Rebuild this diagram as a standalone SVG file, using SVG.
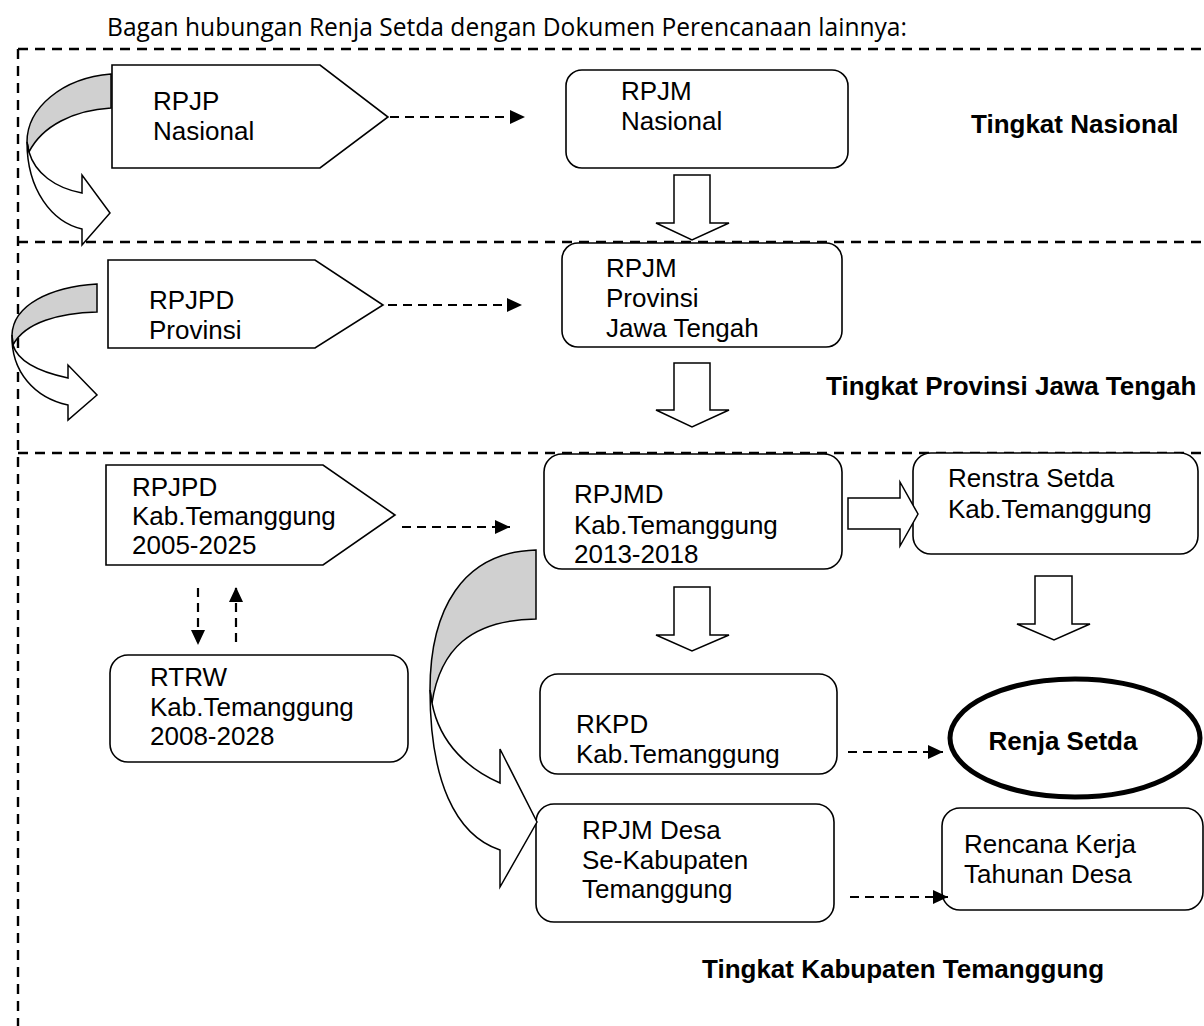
<svg xmlns="http://www.w3.org/2000/svg" width="1204" height="1026" viewBox="0 0 1204 1026">
<defs>
<style>
.t{font-family:"Liberation Sans",Arial,sans-serif;font-size:26px;fill:#000}
.b{font-weight:bold}
.title{font-family:"Open Sans","DejaVu Sans",sans-serif;font-size:26px;fill:#000}
.box{fill:#fff;stroke:#000;stroke-width:1.6}
.border{fill:none;stroke:#000;stroke-width:2.4;stroke-dasharray:10 7}
.dash{fill:none;stroke:#000;stroke-width:2.2;stroke-dasharray:9 6}
.blk{fill:#fff;stroke:#000;stroke-width:1.5;stroke-linejoin:miter}
.gray{fill:#d0d0d0;stroke:#000;stroke-width:1.5}
.wh{fill:#fff;stroke:#000;stroke-width:1.5}
</style>
<marker id="ah" markerUnits="userSpaceOnUse" markerWidth="15" markerHeight="14" refX="15" refY="7" orient="auto">
<path d="M0,0 L15,7 L0,14 Z" fill="#000"/>
</marker>
</defs>
<rect width="1204" height="1026" fill="#fff"/>
<text class="title" x="107" y="36" textLength="800" lengthAdjust="spacingAndGlyphs">Bagan hubungan Renja Setda dengan Dokumen Perencanaan lainnya:</text>
<g id="borders">
<line class="border" x1="18" y1="49" x2="1204" y2="49"/>
<line class="border" x1="18" y1="242" x2="1204" y2="242"/>
<line class="border" x1="18" y1="453" x2="1204" y2="453"/>
<line class="border" x1="18" y1="49" x2="18" y2="1026"/>
</g>
<g id="labels">
<text class="t b" x="971" y="133">Tingkat Nasional</text>
<text class="t b" x="826" y="395">Tingkat Provinsi Jawa Tengah</text>
<text class="t b" x="702" y="978">Tingkat Kabupaten Temanggung</text>
</g>
<g id="rpjp-nasional">
<polygon class="box" points="112,65 320,65 388,117 320,168 112,168"/>
<text class="t" x="153" y="110">RPJP</text>
<text class="t" x="153" y="140">Nasional</text>
</g>
<g id="rpjm-nasional">
<rect class="box" x="566" y="70" width="282" height="98" rx="16"/>
<text class="t" x="621" y="100">RPJM</text>
<text class="t" x="621" y="130">Nasional</text>
</g>
<g id="rpjpd-provinsi">
<polygon class="box" points="108,260 315,260 383,305 315,348 108,348"/>
<text class="t" x="149" y="309">RPJPD</text>
<text class="t" x="149" y="339">Provinsi</text>
</g>
<g id="rpjm-provinsi">
<rect class="box" x="562" y="243" width="280" height="104" rx="16"/>
<text class="t" x="606" y="277">RPJM</text>
<text class="t" x="606" y="307">Provinsi</text>
<text class="t" x="606" y="337">Jawa Tengah</text>
</g>
<g id="rpjpd-kab">
<polygon class="box" points="106,465 323,465 395,515 323,565 106,565"/>
<text class="t" x="132" y="496">RPJPD</text>
<text class="t" x="132" y="525">Kab.Temanggung</text>
<text class="t" x="132" y="554">2005-2025</text>
</g>
<g id="rtrw">
<rect class="box" x="110" y="655" width="298" height="107" rx="18"/>
<text class="t" x="150" y="686">RTRW</text>
<text class="t" x="150" y="716">Kab.Temanggung</text>
<text class="t" x="150" y="745">2008-2028</text>
</g>
<g id="rpjmd">
<rect class="box" x="544" y="454" width="298" height="115" rx="18"/>
<text class="t" x="574" y="503">RPJMD</text>
<text class="t" x="574" y="534">Kab.Temanggung</text>
<text class="t" x="574" y="563">2013-2018</text>
</g>
<g id="renstra">
<rect class="box" x="913" y="453" width="285" height="101" rx="18"/>
<text class="t" x="948" y="487">Renstra Setda</text>
<text class="t" x="948" y="518">Kab.Temanggung</text>
</g>
<g id="rkpd">
<rect class="box" x="540" y="674" width="297" height="100" rx="18"/>
<text class="t" x="576" y="733">RKPD</text>
<text class="t" x="576" y="763">Kab.Temanggung</text>
</g>
<g id="rpjm-desa">
<rect class="box" x="536" y="804" width="298" height="118" rx="18"/>
<text class="t" x="582" y="839">RPJM Desa</text>
<text class="t" x="582" y="869">Se-Kabupaten</text>
<text class="t" x="582" y="898">Temanggung</text>
</g>
<g id="renja-setda">
<ellipse cx="1075" cy="738" rx="125" ry="59" fill="#fff" stroke="#000" stroke-width="5"/>
<text class="t b" x="1063" y="750" text-anchor="middle">Renja Setda</text>
</g>
<g id="rencana-kerja">
<rect class="box" x="942" y="808" width="261" height="102" rx="18"/>
<text class="t" x="964" y="853">Rencana Kerja</text>
<text class="t" x="964" y="883">Tahunan Desa</text>
</g>
<g id="connectors">
<path class="gray" d="M111,74 C62,78 27,108 27,142 L29,152 C42,126 74,110 111,108 Z"/>
<path class="wh" d="M27,142 C27,190 52,222 82,229 L82,245 L110,213 L82,175 L82,193 C55,188 35,173 29,152 Z"/>
<path class="gray" d="M97,284 C50,287 13,305 12,335 L13,345 C25,322 60,313 97,312 Z"/>
<path class="wh" d="M12,335 C11,372 35,398 68,405 L68,420 L97,395 L68,365 L68,378 C40,372 18,362 13,345 Z"/>
<path class="gray" d="M536,550 C462,552 430,610 430,690 L432,703 C440,650 470,620 536,619 Z"/>
<path class="wh" d="M430,690 C430,780 455,835 500,850 L500,887 L537,822 L500,749 L500,783 C470,770 440,745 432,703 Z"/>
<polygon class="blk" points="674,175 710,175 710,223 729,223 692,240 656,223 674,223"/>
<polygon class="blk" points="674,363 710,363 710,410 729,410 692,427 656,410 674,410"/>
<polygon class="blk" points="674,587 710,587 710,635 729,635 692,651 656,635 674,635"/>
<polygon class="blk" points="1035,576 1072,576 1072,624 1090,624 1054,640 1017,624 1035,624"/>
<polygon class="blk" points="848,498 900,498 900,482 918,514 900,546 900,529 848,529"/>
<line class="dash" x1="390" y1="117" x2="525" y2="117" marker-end="url(#ah)"/>
<line class="dash" x1="388" y1="305" x2="522" y2="305" marker-end="url(#ah)"/>
<line class="dash" x1="402" y1="527" x2="510" y2="527" marker-end="url(#ah)"/>
<line class="dash" x1="198" y1="588" x2="198" y2="645" marker-end="url(#ah)"/>
<line class="dash" x1="236" y1="642" x2="236" y2="587" marker-end="url(#ah)"/>
<line class="dash" x1="848" y1="752" x2="943" y2="752" marker-end="url(#ah)"/>
<line class="dash" x1="850" y1="897" x2="948" y2="897" marker-end="url(#ah)"/>
</g>
</svg>
